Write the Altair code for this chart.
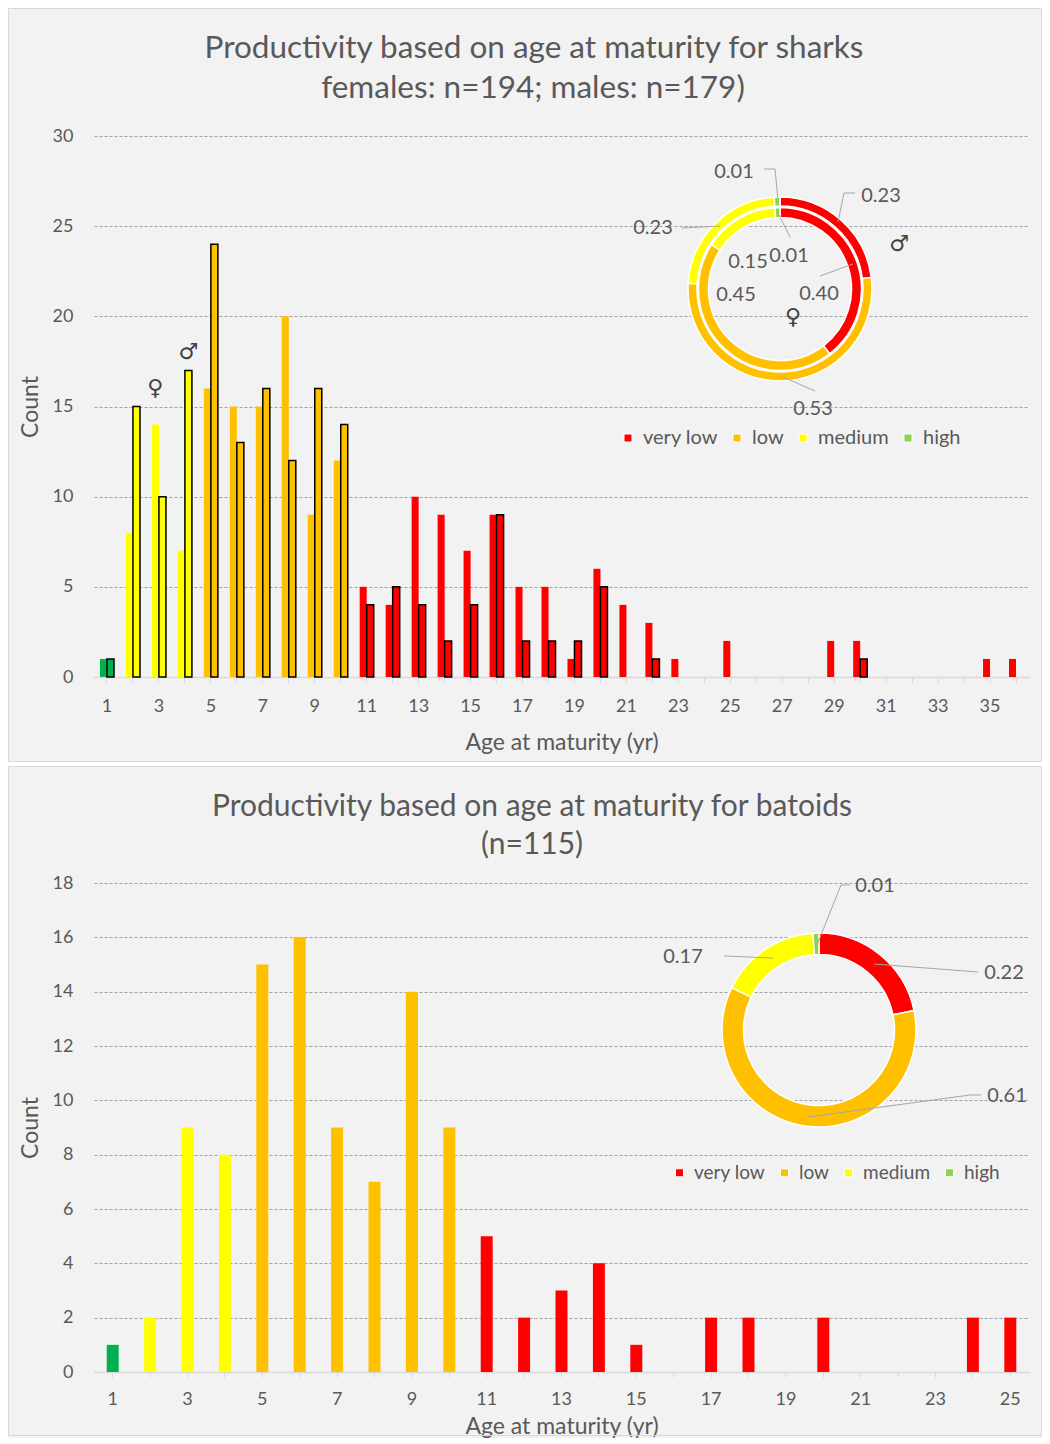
import altair as alt
import pandas as pd

# ---------------- data ----------------
CLASSES = ["very low", "low", "medium", "high"]

shark_ages = list(range(1, 37))
shark_class = ["high"] + ["medium"] * 3 + ["low"] * 6 + ["very low"] * 26
shark_female = [1, 8, 14, 7, 16, 15, 15, 20, 9, 12, 5, 4, 10, 9, 7, 9, 5, 5, 1, 6,
                4, 3, 1, 0, 2, 0, 0, 0, 2, 2, 0, 0, 0, 0, 1, 1]
shark_male = [1, 15, 10, 17, 24, 13, 16, 12, 16, 14, 4, 5, 4, 2, 4, 9, 2, 2, 2, 5,
              0, 1, 0, 0, 0, 0, 0, 0, 0, 1, 0, 0, 0, 0, 0, 0]
shark_male_share = [0.23, 0.53, 0.23, 0.01]
shark_female_share = [0.40, 0.45, 0.15, 0.01]

batoid_ages = list(range(1, 26))
batoid_class = ["high"] + ["medium"] * 3 + ["low"] * 6 + ["very low"] * 15
batoid_count = [1, 2, 9, 8, 15, 16, 9, 7, 14, 9, 5, 2, 3, 4, 1, 0, 2, 2, 0, 2, 0, 0, 0, 2, 2]
batoid_share = [0.22, 0.61, 0.17, 0.01]

shark_title = ["Productivity based on age at maturity for sharks",
               "females: n=194; males: n=179)"]
batoid_title = ["Productivity based on age at maturity for batoids", "(n=115)"]

# ---------------- style / layout ----------------
TXT = "#595959"
FONT = "Lato"
BAR_COLORS = ["#FF0000", "#FFC000", "#FFFF00", "#00B050"]
DONUT_COLORS = ["#FF0000", "#FFC000", "#FFFF00", "#92D050"]
W = 935
TOP_H = 541
BOT_H = 489
X0 = 94          # absolute x of plot areas
TOP_Y0 = 136     # absolute y of top plot area
BOT_Y0 = 883     # absolute y of bottom plot area
PANEL_L, PANEL_R = 8, 1042

LABEL_SIZE = 20

# annotation positions (absolute page px)
top_title_pos = [(534, 49), (533, 89)]
bot_title_pos = [(532, 807), (532, 845)]
top_center = (780, 289)
bot_center = (819, 1030)
top_outer_lbl = [(881, 196), (813, 409), (653, 228), (734, 172)]
top_inner_lbl = [(819, 294), (736, 295), (748, 262), (789, 256)]
top_lines = [
    [(855, 193), (844, 193), (838, 222)],
    [(815, 391), (783, 377)],
    [(682, 228), (720, 226)],
    [(764, 169), (775, 169), (778, 200)],
    [(790, 237), (778, 213)],
    [(820, 276), (853, 264)],
]
top_sex_marks = [("♂", 899, 244), ("♀", 793, 317)]
bot_lbl = [(1004, 973), (1007, 1096), (683, 957), (875, 886)]
bot_lines = [
    [(978, 972), (965, 971), (874, 964)],
    [(981, 1095), (970, 1095), (808, 1117)],
    [(724, 956), (773, 958)],
    [(850, 885), (841, 885), (817, 945)],
]
sym_lift = [2.0, 1.0]


def frame_layers(top_abs, bottom_abs, y0, gap_after=False):
    one = pd.DataFrame({"a": [0]})
    layers = [
        alt.Chart(one).mark_rect(fill="transparent", stroke="#d9d9d9", strokeWidth=1).encode(
            x=alt.value(PANEL_L - X0 + 0.5), x2=alt.value(PANEL_R - X0 - 0.5),
            y=alt.value(top_abs - y0 + 0.5), y2=alt.value(bottom_abs - y0 - 0.5))
    ]
    if gap_after:
        layers.append(
            alt.Chart(one).mark_rect(fill="white").encode(
                x=alt.value(PANEL_L - X0), x2=alt.value(PANEL_R - X0),
                y=alt.value(bottom_abs - y0), y2=alt.value(bottom_abs - y0 + 4)))
    return layers


def text_layer(rows, y0, size, font=FONT, color=TXT):
    df = pd.DataFrame({"px": [r[1] - X0 for r in rows], "py": [r[2] - y0 for r in rows],
                       "t": [r[0] for r in rows]})
    return alt.Chart(df).mark_text(font=font, fontSize=size, color=color,
                                   align="center", baseline="middle").encode(
        x=alt.X("px:Q", scale=None, axis=None),
        y=alt.Y("py:Q", scale=None, axis=None),
        text="t:N")


def line_layer(lines, y0):
    rows = []
    for i, seg in enumerate(lines):
        for k, (x, y) in enumerate(seg):
            rows.append({"seg": i, "k": k, "px": x - X0, "py": y - y0})
    return alt.Chart(pd.DataFrame(rows)).mark_line(color="#a6a6a6", strokeWidth=1).encode(
        x=alt.X("px:Q", scale=None, axis=None),
        y=alt.Y("py:Q", scale=None, axis=None),
        detail="seg:N", order="k:Q")


def ring(shares, r_out, r_in, center, y0, legend):
    df = pd.DataFrame({"cls": CLASSES, "share": shares, "k": list(range(len(CLASSES)))})
    return alt.Chart(df).mark_arc(radius=r_out, radius2=r_in, stroke="white", strokeWidth=1.5).encode(
        theta=alt.Theta("share:Q"),
        color=alt.Color("cls:N", scale=alt.Scale(domain=CLASSES, range=DONUT_COLORS), legend=legend),
        order=alt.Order("k:Q"),
        x=alt.value(center[0] - X0), y=alt.value(center[1] - y0))


def donut_legend(lx, ly, size):
    return alt.Legend(orient="none", legendX=lx, legendY=ly, direction="horizontal", title=None,
                      symbolType="square", symbolSize=64, symbolStrokeColor="white",
                      symbolStrokeWidth=1, labelFont=FONT, labelFontSize=size,
                      labelColor=TXT, labelOffset=5, columnPadding=9, padding=0)


def x_axis(lpad, tpad):
    return alt.Axis(title="Age at maturity (yr)", labelAngle=0,
                    labelExpr="datum.value % 2 == 1 ? datum.label : ''",
                    domainColor="#d9d9d9", domainWidth=1.5, tickColor="#d9d9d9", tickSize=5,
                    labelPadding=lpad, titlePadding=tpad, grid=False)


def y_axis(vals):
    return alt.Axis(title="Count", values=vals, grid=True, gridColor="#8c8c8c", gridDash=[3, 2],
                    gridWidth=0.8, domain=False, ticks=False, labelPadding=21, titlePadding=10)


# ---------------- top panel (sharks) ----------------
shark_df = pd.DataFrame({
    "age": shark_ages * 2,
    "sex": ["female"] * len(shark_ages) + ["male"] * len(shark_ages),
    "count": shark_female + shark_male,
    "cls": shark_class * 2,
})
shark_df = shark_df[shark_df["count"] > 0]

x_top = alt.X("age:O", scale=alt.Scale(domain=shark_ages, paddingInner=0.46, paddingOuter=0.23),
              axis=x_axis(15, 16))
y_top_scale = alt.Scale(domain=[0, 30], nice=False)
y_top_axis = y_axis(list(range(0, 31, 5)))
xoff = alt.XOffset("sex:N", scale=alt.Scale(domain=["female", "male"], paddingInner=0, paddingOuter=0))

bars_top = alt.Chart(shark_df).mark_bar(strokeWidth=1.5).encode(
    x=x_top, xOffset=xoff,
    y=alt.Y("count:Q", scale=y_top_scale, axis=y_top_axis),
    color=alt.Color("cls:N", scale=alt.Scale(domain=CLASSES, range=BAR_COLORS), legend=None),
    stroke=alt.Stroke("sex:N", scale=alt.Scale(domain=["female", "male"], range=["transparent", "#000000"]),
                      legend=None),
)

sym_df = pd.DataFrame({"age": [3, 4], "sex": ["female", "male"],
                       "count": [shark_female[2], shark_male[3]], "sym": ["♀", "♂"], "lift": sym_lift})
syms_top = alt.Chart(sym_df).transform_calculate(ypos="datum.count + datum.lift").mark_text(
    font="DejaVu Sans", fontSize=22, color="#404040", baseline="middle").encode(
    x=x_top, xOffset=xoff,
    y=alt.Y("ypos:Q", scale=y_top_scale, axis=y_top_axis),
    text="sym:N")

top_title_rows = [(t, p[0], p[1]) for t, p in zip(shark_title, top_title_pos)]
top_lbl_rows = ([(f"{v:.2f}", p[0], p[1]) for v, p in zip(shark_male_share, top_outer_lbl)] +
                [(f"{v:.2f}", p[0], p[1]) for v, p in zip(shark_female_share, top_inner_lbl)])

top = alt.layer(
    *frame_layers(8, 762, TOP_Y0, gap_after=True),
    alt.layer(bars_top, syms_top),
    ring(shark_male_share, 92, 83, top_center, TOP_Y0, donut_legend(524, 292, 20)),
    ring(shark_female_share, 81.5, 71.5, top_center, TOP_Y0, None),
    line_layer(top_lines, TOP_Y0),
    text_layer(top_lbl_rows, TOP_Y0, LABEL_SIZE),
    text_layer(top_sex_marks, TOP_Y0, 22, font="DejaVu Sans", color="#404040"),
    text_layer(top_title_rows, TOP_Y0, 31.5),
).resolve_scale(x="independent", y="independent", color="independent", theta="independent").properties(
    width=W, height=TOP_H)

# ---------------- bottom panel (batoids) ----------------
bat_df = pd.DataFrame({"age": batoid_ages, "count": batoid_count, "cls": batoid_class})
bat_df = bat_df[bat_df["count"] > 0]

bars_bot = alt.Chart(bat_df).mark_bar().encode(
    x=alt.X("age:O", scale=alt.Scale(domain=batoid_ages, paddingInner=0.68, paddingOuter=0.34),
            axis=x_axis(13, 7)),
    y=alt.Y("count:Q", scale=alt.Scale(domain=[0, 18], nice=False), axis=y_axis(list(range(0, 19, 2)))),
    color=alt.Color("cls:N", scale=alt.Scale(domain=CLASSES, range=BAR_COLORS), legend=None),
)

bot_title_rows = [(t, p[0], p[1]) for t, p in zip(batoid_title, bot_title_pos)]
bot_lbl_rows = [(f"{v:.2f}", p[0], p[1]) for v, p in zip(batoid_share, bot_lbl)]

bottom = alt.layer(
    *frame_layers(766, 1436, BOT_Y0),
    bars_bot,
    ring(batoid_share, 97, 75.5, bot_center, BOT_Y0, donut_legend(576, 280, 19)),
    line_layer(bot_lines, BOT_Y0),
    text_layer(bot_lbl_rows, BOT_Y0, LABEL_SIZE),
    text_layer(bot_title_rows, BOT_Y0, 30),
).resolve_scale(x="independent", y="independent", color="independent", theta="independent").properties(
    width=W, height=BOT_H)

chart = alt.vconcat(top, bottom, spacing=0).properties(
    padding=0, background="#f2f2f2"
).configure_view(strokeWidth=0).configure_axis(
    labelFont=FONT, labelFontSize=18, labelColor=TXT,
    titleFont=FONT, titleFontSize=23, titleColor=TXT, titleFontWeight="normal")

chart.save("out.html", embed_options={"renderer": "svg", "actions": False})
